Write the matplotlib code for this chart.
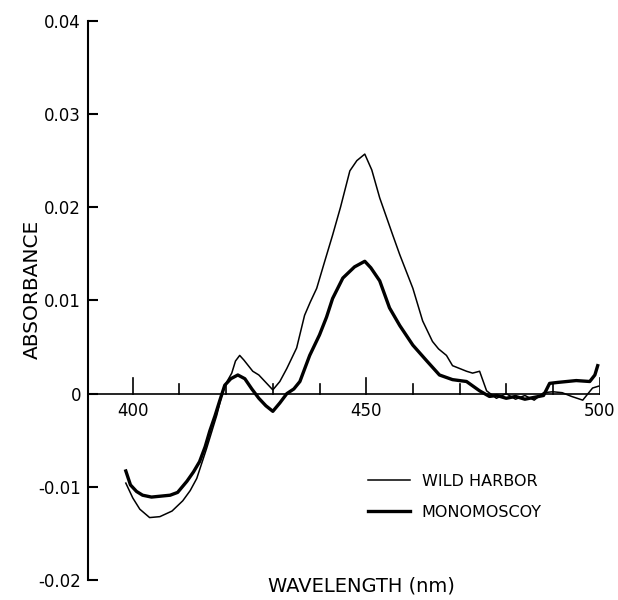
import matplotlib.pyplot as plt
import numpy as np

# Absorbance spectra (nm, absorbance)
wh_nm = [398.5, 400.0, 401.5, 403.6, 405.8, 408.4, 410.7, 412.3, 413.7, 415.8,
         418.0, 419.3, 420.3, 421.2, 422.0, 422.9, 423.8, 425.7, 427.0, 428.5,
         430.0, 431.5, 433.0, 435.1, 436.8, 438.0, 439.4, 441.0, 442.8, 444.5,
         446.5, 448.0, 449.7, 451.2, 452.9, 455.7, 457.2, 460.0, 462.1, 464.2,
         465.5, 467.2, 468.5, 470.0, 471.5, 472.8, 474.3, 475.8, 477.9, 480.0,
         482.0, 484.0, 486.0, 488.0, 490.0, 492.0, 494.0, 496.4, 498.5, 499.8]
wh_abs = [-0.0096, -0.0112, -0.0124, -0.0133, -0.0132, -0.0126, -0.0115, -0.0104, -0.0091, -0.0059,
          -0.0023, 0.0003, 0.0014, 0.0022, 0.0035, 0.0041, 0.0036, 0.0024, 0.0020, 0.0012,
          0.0004, 0.0013, 0.0027, 0.0049, 0.0084, 0.0098, 0.0113, 0.0140, 0.0170, 0.0200,
          0.0239, 0.0250, 0.0257, 0.0240, 0.0210, 0.0170, 0.0149, 0.0113, 0.0078, 0.0056,
          0.0048, 0.0041, 0.0030, 0.0027, 0.0024, 0.0022, 0.0024, 0.0003, -0.0005, 0.0000,
          -0.0006, -0.0002, -0.0007, 0.0001, 0.0002, 0.0001, -0.0003, -0.0007, 0.0006, 0.0008]

mon_nm = [398.5, 399.5, 400.8, 402.1, 404.0, 406.0, 408.0, 409.6, 411.6, 413.0,
          414.3, 415.5, 416.5, 417.6, 418.6, 419.7, 421.0, 422.5, 424.0, 425.5,
          427.0, 428.5, 430.0, 431.5, 433.0, 434.5, 435.8, 437.9, 440.0, 441.5,
          442.8, 445.0, 447.5, 449.7, 451.0, 452.9, 455.0, 457.2, 460.0, 463.0,
          465.7, 468.5, 471.5, 474.3, 476.4, 478.0, 480.0, 482.0, 484.0, 486.0,
          488.0, 489.3, 491.0, 493.0, 495.0, 497.9, 499.0, 499.6]
mon_abs = [-0.0083, -0.0098, -0.0105, -0.0109, -0.0111, -0.0110, -0.0109, -0.0106, -0.0094, -0.0084,
           -0.0073, -0.0057, -0.0040, -0.0024, -0.0008, 0.0009, 0.0016, 0.0020, 0.0016, 0.0005,
           -0.0005, -0.0013, -0.0019, -0.0010, 0.0000, 0.0005, 0.0013, 0.0041, 0.0063, 0.0082,
           0.0102, 0.0124, 0.0136, 0.0142, 0.0135, 0.0121, 0.0092, 0.0073, 0.0052, 0.0035,
           0.0020, 0.0015, 0.0013, 0.0003, -0.0003, -0.0002, -0.0005, -0.0003, -0.0006, -0.0004,
           -0.0002, 0.0011, 0.0012, 0.0013, 0.0014, 0.0013, 0.0020, 0.0030]

y_ticks = [-0.02, -0.01, 0, 0.01, 0.02, 0.03, 0.04]
y_labels = ["-0.02", "-0.01", "0", "0.01", "0.02", "0.03", "0.04"]
x_major = [400, 450, 500]
x_minor = [410, 420, 430, 440, 460, 470, 480, 490]

plt.rcParams['font.family'] = ['DejaVu Sans']

fig = plt.figure(figsize=(6.18, 6.0), dpi=100)
# y axis at x=88 px, 500 nm at x=600 px, 0.04 at y=21 px, -0.02 at y=580 px
ax = fig.add_axes([0.1424, 0.0333, 0.8285, 0.932])

ax.plot(wh_nm, wh_abs, color='black', lw=1.1, label='WILD HARBOR')
ax.plot(mon_nm, mon_abs, color='black', lw=2.4, label='MONOMOSCOY')

ax.set_xlim(390.4, 500.1)
ax.set_ylim(-0.02, 0.04)

# axes: left spine + horizontal zero line acting as x axis
for s in ['top', 'right', 'bottom']:
    ax.spines[s].set_visible(False)
ax.spines['left'].set_linewidth(1.5)
ax.axhline(0, color='black', lw=1.2)

ax.set_yticks(y_ticks)
ax.set_yticklabels(y_labels, fontsize=12)
ax.tick_params(axis='y', direction='in', length=7, width=1.5, pad=5)
ax.set_xticks([])

# x ticks drawn upward from the zero line
for xv in x_major:
    ax.plot([xv, xv], [0, 0.0017], color='black', lw=1.2)
    ax.text(xv, -0.0009, str(xv), ha='center', va='top', fontsize=12)
for xv in x_minor:
    ax.plot([xv, xv], [0, 0.0010], color='black', lw=1.2)

fig.text(0.053, 0.518, 'ABSORBANCE', rotation=90, ha='center', va='center', fontsize=14.5)
fig.text(0.585, 0.024, 'WAVELENGTH (nm)', ha='center', va='center', fontsize=14)

ax.legend(loc='upper left', bbox_to_anchor=(368 / 618, 1 - 474 / 600),
          bbox_transform=fig.transFigure, frameon=False, borderpad=0, borderaxespad=0,
          fontsize=11.5, handlelength=2.6, handletextpad=0.75, labelspacing=1.0)

fig.savefig('out.png', dpi=100)
